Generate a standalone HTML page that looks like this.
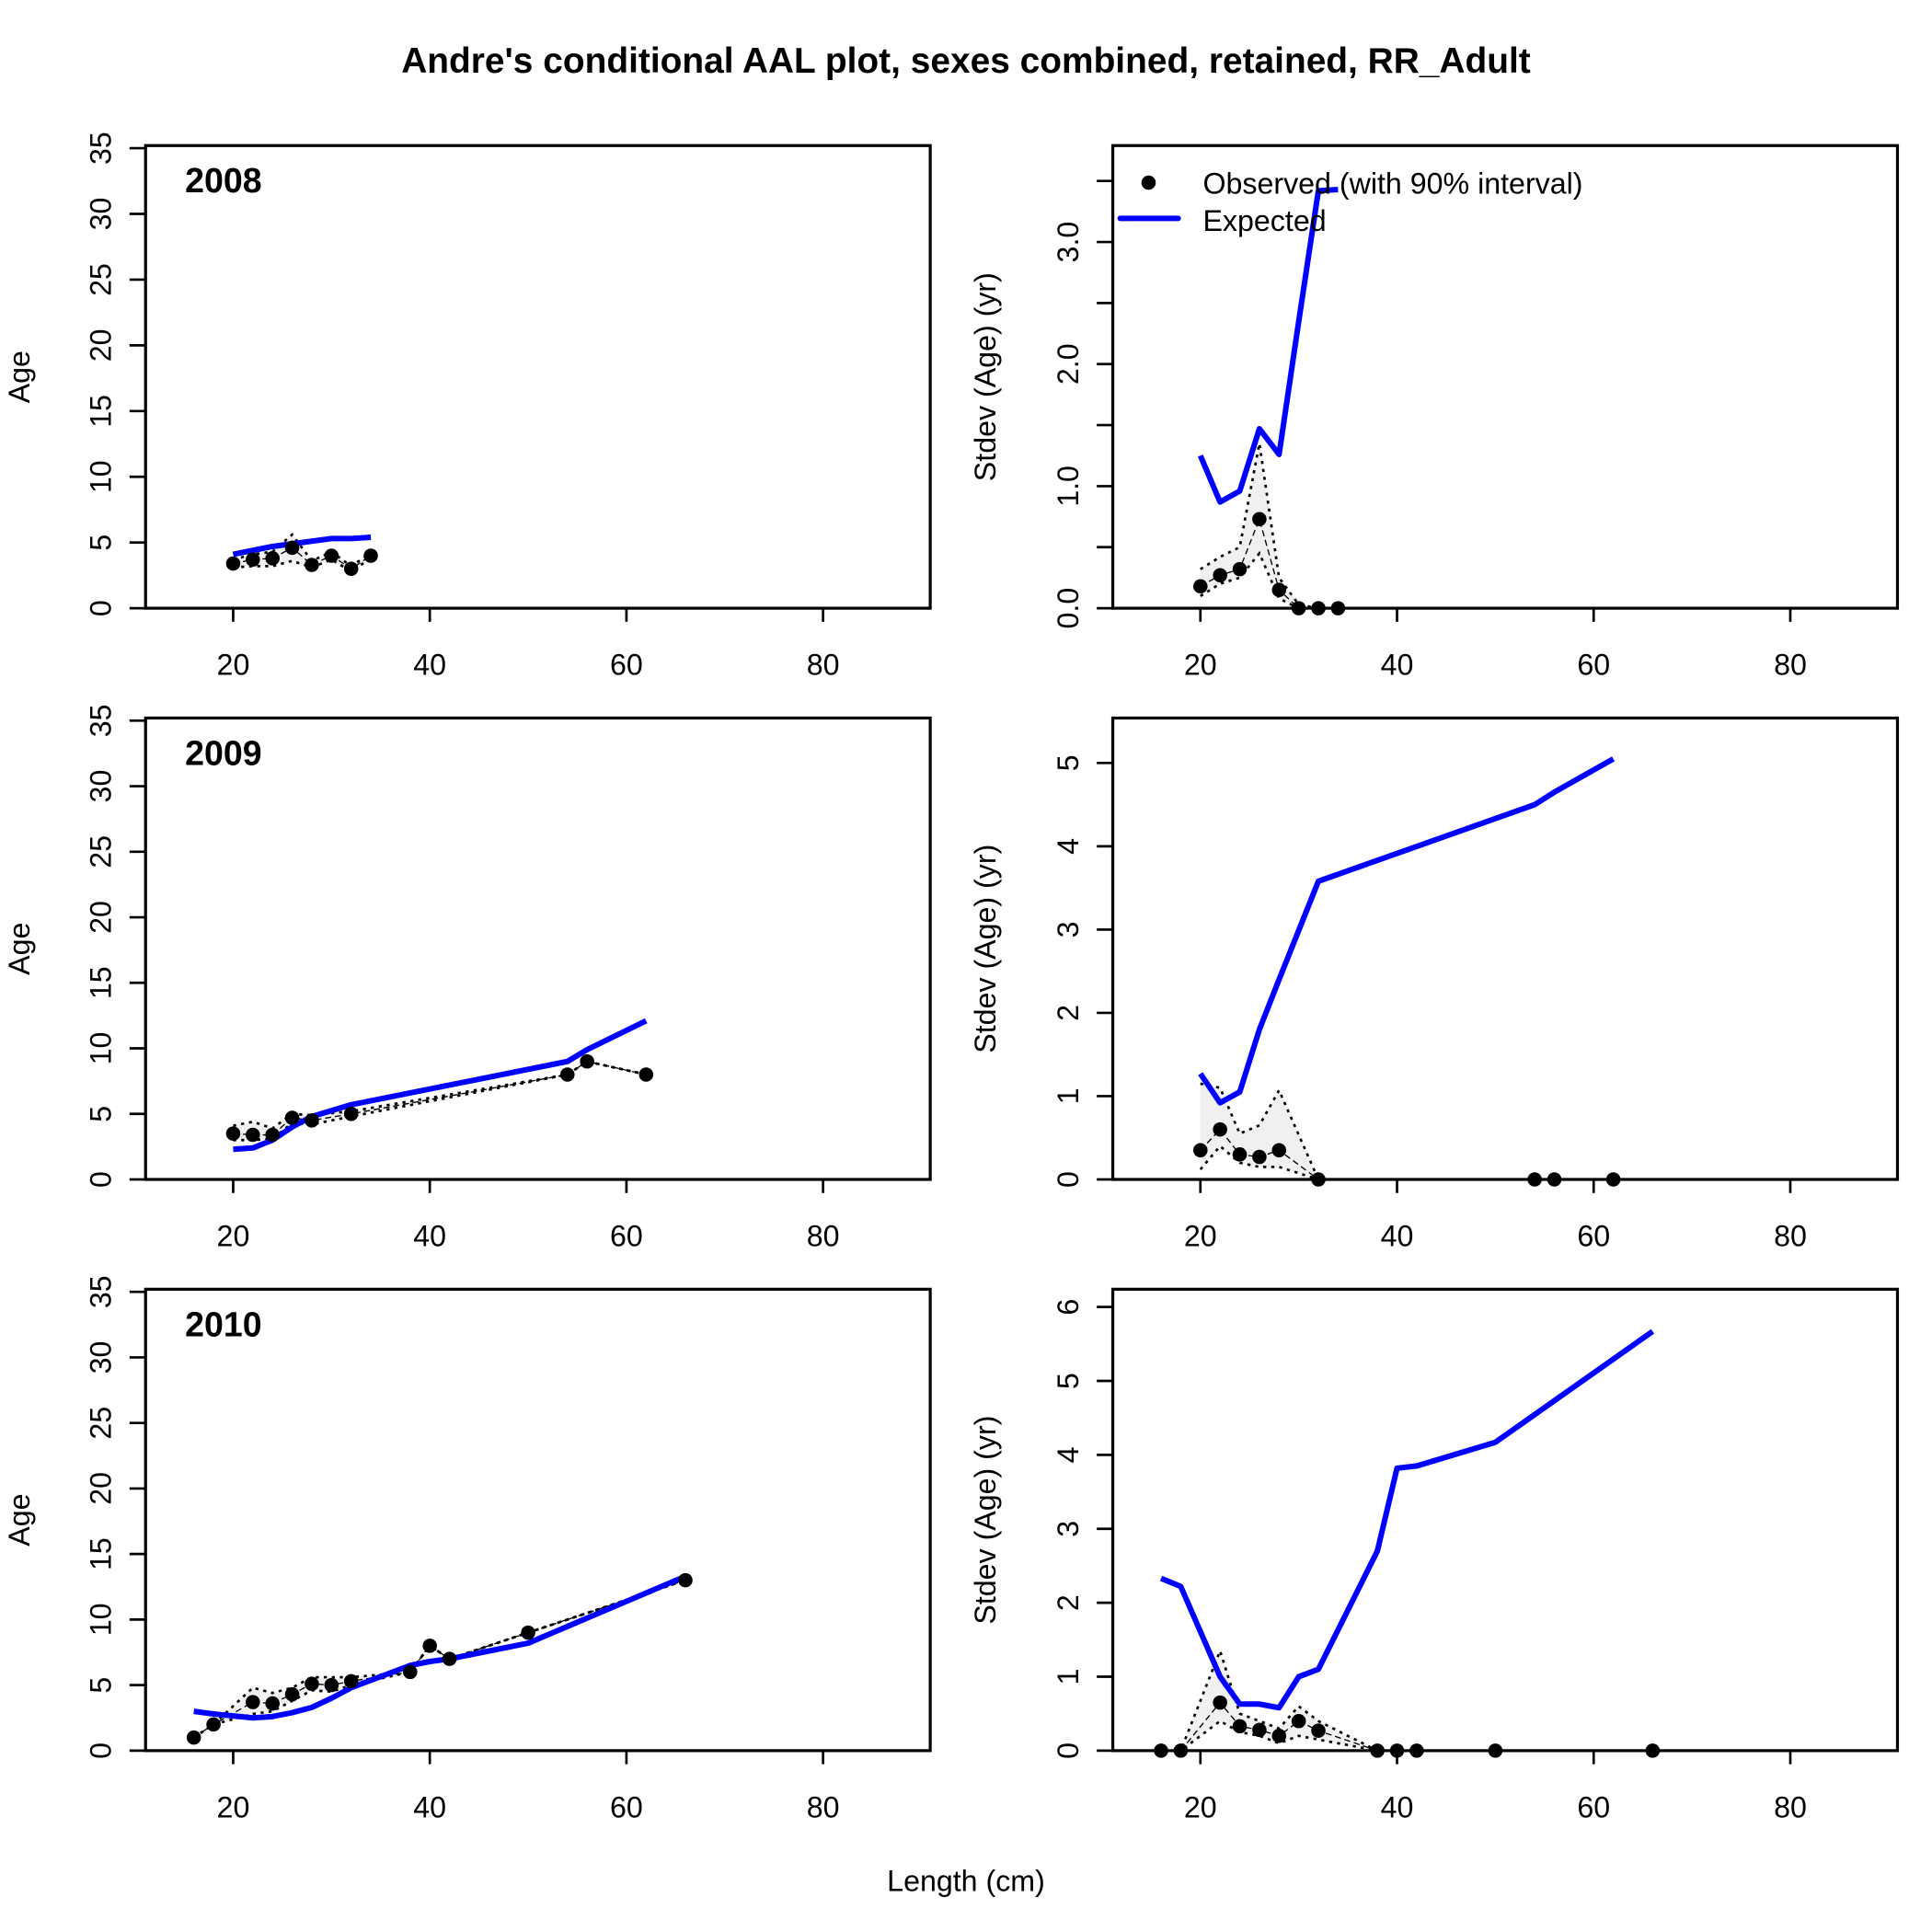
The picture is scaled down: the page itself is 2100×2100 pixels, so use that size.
<!DOCTYPE html>
<html><head><meta charset="utf-8"><style>
html,body{margin:0;padding:0;background:#fff}
svg{display:block}
text{font-family:"Liberation Sans",Arial,sans-serif}
</style></head><body>
<svg id="chart" width="2100" height="2100" viewBox="0 0 1566 1566" xmlns="http://www.w3.org/2000/svg">
<text x="783" y="59" text-anchor="middle" font-size="29" font-weight="bold">Andre's conditional AAL plot, sexes combined, retained, RR_Adult</text>
<text x="783" y="1533" text-anchor="middle" font-size="24">Length (cm)</text>
</svg>
<script>
// ---- data ----
const years = ["2008","2009","2010"];
const len2008 = [20,22,24,26,28,30,32,34];
const obsAge2008 = [3.4,3.7,3.8,4.6,3.3,4.0,3.0,4.0];
const loAge2008 = [3.1,3.2,3.2,3.6,3.1,3.7,2.8,3.8];
const hiAge2008 = [3.7,4.1,4.3,5.6,3.6,4.3,3.2,4.2];
const expAge2008 = [4.1,4.4,4.7,4.9,5.1,5.3,5.3,5.4];
const obsSd2008 = [0.18,0.27,0.32,0.73,0.15,0,0,0];
const loSd2008 = [0.1,0.2,0.25,0.45,0.08,0,0,0];
const hiSd2008 = [0.32,0.42,0.5,1.35,0.25,0.03,0,0];
const expSd2008 = [1.25,0.87,0.96,1.47,1.26,2.35,3.42,3.43];

const len2009 = [20,22,24,26,28,32,54,56,62];
const obsAge2009 = [3.5,3.4,3.4,4.7,4.5,5.0,8.0,9.0,8.0];
const loAge2009 = [3.0,3.0,3.1,4.3,4.2,4.8,8.0,9.0,8.0];
const hiAge2009 = [4.1,4.4,3.9,5.0,4.9,5.2,8.0,9.0,8.0];
const expAge2009 = [2.3,2.4,3.0,4.0,4.8,5.7,9.0,9.9,12.1];
const obsSd2009 = [0.35,0.6,0.3,0.27,0.35,0,0,0,0];
const loSd2009 = [0.12,0.4,0.2,0.15,0.15,0,0,0,0];
const hiSd2009 = [1.15,1.1,0.55,0.65,1.07,0,0,0,0];
const expSd2009 = [1.27,0.92,1.05,1.8,2.4,3.58,4.5,4.65,5.05];

const len2010 = [16,18,22,24,26,28,30,32,38,40,42,50,66];
const obsAge2010 = [1.0,2.0,3.7,3.6,4.3,5.1,5.0,5.3,6.0,8.0,7.0,9.0,13.0];
const loAge2010 = [1.0,2.0,2.8,3.0,3.8,4.6,4.5,5.0,6.0,8.0,7.0,9.0,13.0];
const hiAge2010 = [1.0,2.0,4.8,4.4,4.8,5.6,5.6,5.6,6.0,8.0,7.0,9.0,13.0];
const expAge2010 = [3.0,2.8,2.5,2.6,2.9,3.3,4.0,4.8,6.5,6.8,7.0,8.2,13.3];
const obsSd2010 = [0,0,0.65,0.33,0.28,0.2,0.4,0.27,0,0,0,0,0];
const loSd2010 = [0,0,0.4,0.25,0.2,0.1,0.2,0.15,0,0,0,0,0];
const hiSd2010 = [0,0,1.35,0.5,0.4,0.3,0.6,0.4,0,0,0,0,0];
const expSd2010 = [2.33,2.22,1.0,0.63,0.63,0.58,1.0,1.1,2.7,3.82,3.85,4.17,5.67];

const xTicks = [20,40,60,80];
const ageTicks = [0,5,10,15,20,25,30,35];
const sdTicks2008 = [0,0.5,1,1.5,2,2.5,3,3.5];
const sdLabels2008 = ["0.0","","1.0","","2.0","","3.0",""];
const sdTicks2009 = [0,1,2,3,4,5];
const sdTicks2010 = [0,1,2,3,4,5,6];

// ---- drawing ----
const svg = document.getElementById('chart');
const NS = "http://www.w3.org/2000/svg";
function mk(tag, attrs, parent){ const e=document.createElementNS(NS,tag); for(const k in attrs) e.setAttribute(k,attrs[k]); (parent||svg).appendChild(e); return e; }

const rowsY = [[118,493],[582,956],[1045,1419]];
const colsX = [[118,754],[902,1538]];
const XMIN=11.09, XMAX=90.9;

const panels = [
 {len:len2008, left:[obsAge2008,loAge2008,hiAge2008,expAge2008], right:[obsSd2008,loSd2008,hiSd2008,expSd2008], sdMax:3.79, sdT:sdTicks2008, sdL:sdLabels2008},
 {len:len2009, left:[obsAge2009,loAge2009,hiAge2009,expAge2009], right:[obsSd2009,loSd2009,hiSd2009,expSd2009], sdMax:5.54, sdT:sdTicks2009, sdL:sdTicks2009.map(String)},
 {len:len2010, left:[obsAge2010,loAge2010,hiAge2010,expAge2010], right:[obsSd2010,loSd2010,hiSd2010,expSd2010], sdMax:6.24, sdT:sdTicks2010, sdL:sdTicks2010.map(String)}
];

function drawPanel(r, c, lens, series, ymax, yT, yL, ylab, year){
  const [x0,x1]=colsX[c], [y0,y1]=rowsY[r];
  const g = mk('g',{});
  
  
  const sx = v => x0 + (v-XMIN)/(XMAX-XMIN)*(x1-x0);
  const sy = v => y1 - v/ymax*(y1-y0);
  const [obs,lo,hi,ex] = series;
  const poly = lens.map((l,i)=>sx(l)+','+sy(hi[i])).concat(lens.map((l,i)=>sx(l)+','+sy(lo[i])).reverse()).join(' ');
  const pf = mk('polygon',{points:poly, fill:'#f0f0f0', stroke:'none'},g);
  
  
  [lo,hi].forEach((arr,k)=>{
    const p = mk('polyline',{points:lens.map((l,i)=>sx(l)+','+sy(arr[i])).join(' '), fill:'none', stroke:'#000','stroke-width':2,'stroke-dasharray':'2.5,4'},g);
    
    
  });
  const ol = mk('polyline',{points:lens.map((l,i)=>sx(l)+','+sy(obs[i])).join(' '), fill:'none', stroke:'#000','stroke-width':1,'stroke-dasharray':'5,3'},g);
  
  
  const el = mk('polyline',{points:lens.map((l,i)=>sx(l)+','+sy(ex[i])).join(' '), fill:'none', stroke:'#0000ff','stroke-width':4.5,'stroke-linejoin':'round'},g);
  
  
  lens.forEach((l,i)=>{
    const ci = mk('circle',{cx:sx(l), cy:sy(obs[i]), r:5.8, fill:'#000'},g);
    
    
  });
  const fr = mk('rect',{x:x0,y:y0,width:x1-x0,height:y1-y0,fill:'none',stroke:'#000','stroke-width':2.4},g);
  
  
  xTicks.forEach(t=>{
    mk('line',{x1:sx(t),x2:sx(t),y1:y1,y2:y1+11,stroke:'#000','stroke-width':2},g);
    const tx = mk('text',{x:sx(t),y:y1+54,'text-anchor':'middle','font-size':24},g);
    tx.textContent=t;
    
    
  });
  yT.forEach((t,i)=>{
    mk('line',{x1:x0-13,x2:x0,y1:sy(t),y2:sy(t),stroke:'#000','stroke-width':2},g);
    if(yL[i]!==""){
      const tx = mk('text',{x:x0-36,y:sy(t),'text-anchor':'middle','font-size':24,transform:`rotate(-90 ${x0-36} ${sy(t)})`,dy:'8'},g);
      tx.textContent=yL[i];
      
      
    }
  });
  const yc=(y0+y1)/2, lx = c===0?24:807;
  const yl = mk('text',{x:lx,y:yc,'text-anchor':'middle','font-size':24,transform:`rotate(-90 ${lx} ${yc})`},g);
  yl.textContent=ylab;
  
  
  if(year){
    const yr = mk('text',{x:150,y:y0+38,'font-size':28,'font-weight':'bold'},g);
    yr.textContent=year;
    
    
  }
}

panels.forEach((p,r)=>{
  drawPanel(r,0,p.len,p.left,35.2,ageTicks,ageTicks.map(String),'Age',years[r]);
  drawPanel(r,1,p.len,p.right,p.sdMax,p.sdT,p.sdL,'Stdev (Age) (yr)',null);
});

const lg = mk('g',{});


mk('circle',{cx:931,cy:148,r:5.8,fill:'#000'},lg);
const t1 = mk('text',{x:975,y:157,'font-size':24},lg); t1.textContent='Observed (with 90% interval)';


mk('line',{x1:908,x2:955,y1:177,y2:177,stroke:'#0000ff','stroke-width':4.5,'stroke-linecap':'round'},lg);
const t2 = mk('text',{x:975,y:187,'font-size':24},lg); t2.textContent='Expected';


</script>
</body></html>
